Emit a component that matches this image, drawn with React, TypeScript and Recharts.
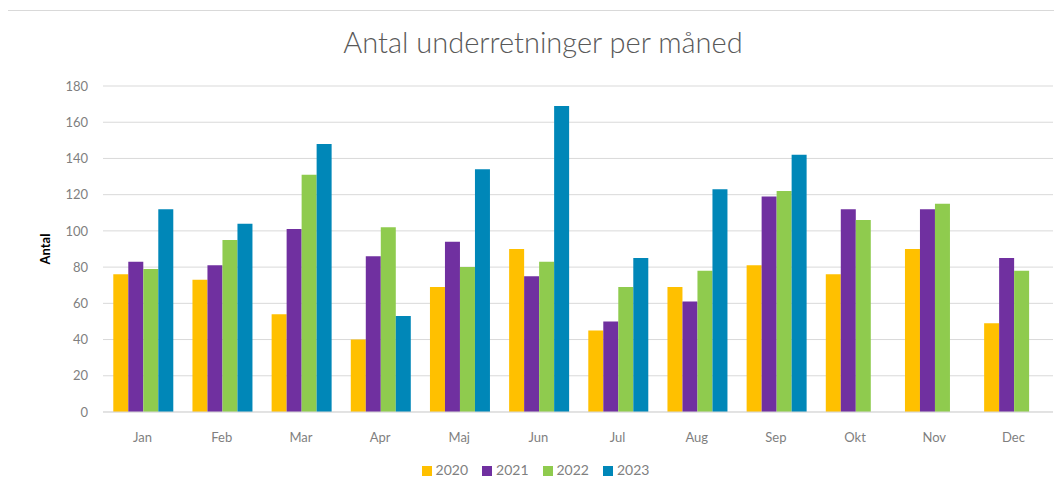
import { Bar, BarChart, CartesianGrid, Legend, XAxis, YAxis } from "recharts"

const months = ["Jan", "Feb", "Mar", "Apr", "Maj", "Jun", "Jul", "Aug", "Sep", "Okt", "Nov", "Dec"]
const y2020 = [76, 73, 54, 40, 69, 90, 45, 69, 81, 76, 90, 49]
const y2021 = [83, 81, 101, 86, 94, 75, 50, 61, 119, 112, 112, 85]
const y2022 = [79, 95, 131, 102, 80, 83, 69, 78, 122, 106, 115, 78]
const y2023 = [112, 104, 148, 53, 134, 169, 85, 123, 142, null, null, null]
const yTicks = [0, 20, 40, 60, 80, 100, 120, 140, 160, 180]

const data = months.map((month, i) => ({
  month,
  "2020": y2020[i],
  "2021": y2021[i],
  "2022": y2022[i],
  "2023": y2023[i],
}))

const font = "Lato, 'Open Sans', sans-serif"

export default function App() {
  return (
    <div style={{ position: "relative", width: 1062, height: 495, margin: -8, background: "#fff", overflow: "hidden" }}>
      <div
        style={{
          position: "absolute",
          left: 4,
          top: 10,
          width: 1100,
          height: 520,
          borderLeft: "1px solid #d9d9d9",
          borderTop: "1px solid #d9d9d9",
        }}
      />
      <div
        style={{
          position: "absolute",
          left: 0,
          width: 1086,
          top: 24,
          textAlign: "center",
          fontFamily: font,
          fontWeight: 300,
          fontSize: 29,
          color: "#595959",
        }}
      >
        Antal underretninger per måned
      </div>
      <BarChart
        width={1062}
        height={495}
        data={data}
        margin={{ top: 86, right: 9, left: 0, bottom: 17 }}
        barCategoryGap="13%"
        barGap={0}
        style={{ position: "absolute", left: 0, top: 0, fontFamily: font }}
      >
        <CartesianGrid vertical={false} stroke="#d9d9d9" />
        <XAxis
          dataKey="month"
          tickLine={false}
          axisLine={{ stroke: "#d9d9d9" }}
          tickSize={0}
          tickMargin={21}
          height={49}
          tick={{ fill: "#7f7f7f", fontSize: 13 }}
        />
        <YAxis
          width={103}
          domain={[0, 180]}
          ticks={yTicks}
          tickLine={false}
          axisLine={false}
          tickSize={0}
          tickMargin={15}
          tick={{ fill: "#7f7f7f", fontSize: 13 }}
          label={{ value: "Antal", angle: -90, position: "center", dx: -6, fill: "#000", fontSize: 13, fontWeight: 700 }}
        />
        <Legend
          verticalAlign="bottom"
          iconType="square"
          iconSize={10}
          wrapperStyle={{ fontSize: 14, color: "#7f7f7f", paddingLeft: 16 }}
          formatter={(value) => <span style={{ color: "#7f7f7f", marginRight: 4 }}>{value}</span>}
        />
        <Bar dataKey="2020" fill="#FFC000" isAnimationActive={false} />
        <Bar dataKey="2021" fill="#7030A0" isAnimationActive={false} />
        <Bar dataKey="2022" fill="#8FCB4E" isAnimationActive={false} />
        <Bar dataKey="2023" fill="#0087B8" isAnimationActive={false} />
      </BarChart>
    </div>
  )
}
